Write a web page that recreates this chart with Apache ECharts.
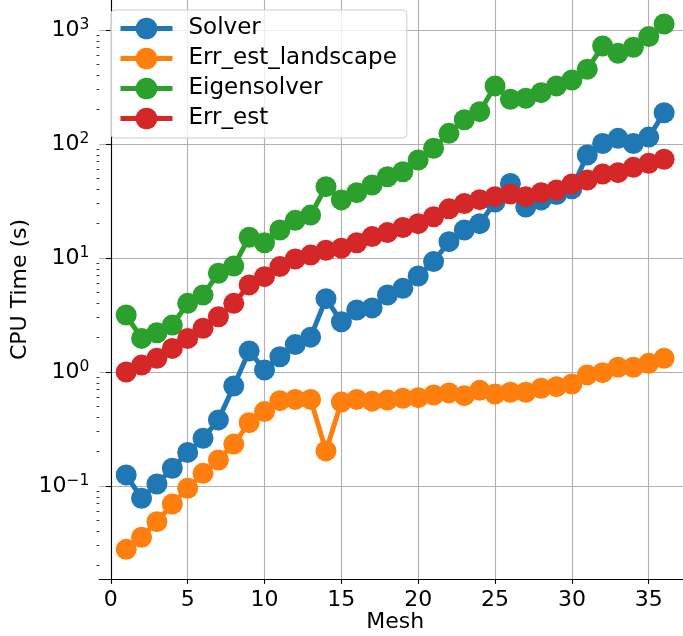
<!DOCTYPE html>
<html>
<head>
<meta charset="utf-8">
<title>CPU Time vs Mesh</title>
<script src="https://cdn.jsdelivr.net/npm/echarts@6/dist/echarts.min.js"></script>
<style>
  html, body { margin: 0; padding: 0; background: #ffffff; }
  #chart { width: 683px; height: 636px; }
</style>
</head>
<body>
<div id="chart"></div>
<script>
// Mesh index on the x axis
const mesh = [1, 2, 3, 4, 5, 6, 7, 8, 9, 10, 11, 12, 13, 14, 15, 16, 17, 18,
              19, 20, 21, 22, 23, 24, 25, 26, 27, 28, 29, 30, 31, 32, 33, 34, 35, 36];

// CPU time in seconds for each stage
const solver = [0.125, 0.078, 0.104, 0.143, 0.197, 0.262, 0.38, 0.753, 1.53, 1.04,
                1.36, 1.74, 2.02, 4.4, 2.76, 3.5, 3.65, 4.73, 5.42, 6.95,
                9.3, 13.9, 17.6, 20.0, 31, 45, 28, 32.3, 36, 40.5,
                80, 101, 112, 101, 115, 188];
const errEstLandscape = [0.0278, 0.0355, 0.0486, 0.0695, 0.0955, 0.129, 0.169, 0.233, 0.359, 0.449,
                         0.56, 0.575, 0.575, 0.203, 0.545, 0.575, 0.555, 0.567, 0.587, 0.595,
                         0.628, 0.655, 0.62, 0.69, 0.64, 0.664, 0.664, 0.72, 0.743, 0.785,
                         0.942, 0.987, 1.1, 1.1, 1.19, 1.32];
const eigensolver = [3.16, 1.97, 2.21, 2.58, 4.0, 4.73, 7.34, 8.51, 15.2, 13.6,
                     17.6, 21.4, 23.8, 42.2, 32.3, 37.4, 43.7, 51.6, 57.1, 72.4,
                     91.7, 124, 163, 192, 323, 247, 252, 282, 323, 364,
                     452, 724, 624, 705, 875, 1129];
const errEst = [1.0, 1.15, 1.32, 1.61, 1.97, 2.42, 3.05, 4.0, 5.8, 6.86,
                8.4, 9.8, 10.6, 11.7, 12.2, 13.6, 15.4, 16.7, 18.5, 20.0,
                23.0, 27.0, 30.0, 32.5, 34.5, 36.4, 34.5, 37.4, 39.5, 44.6,
                48.3, 54.5, 56, 62.4, 67.6, 73.4];

// Tick positions
const xTicks = [0, 5, 10, 15, 20, 25, 30, 35];
const yMajorTicks = [0.1, 1, 10, 100, 1000];
const yMinorTicks = [0.02, 0.03, 0.04, 0.05, 0.06, 0.07, 0.08, 0.09,
                     0.2, 0.3, 0.4, 0.5, 0.6, 0.7, 0.8, 0.9,
                     2, 3, 4, 5, 6, 7, 8, 9,
                     20, 30, 40, 50, 60, 70, 80, 90,
                     200, 300, 400, 500, 600, 700, 800, 900];

const FONT = 'DejaVu Sans';
const X_MIN = -0.75, X_MAX = 37.75;
const Y_MIN = Math.pow(10, -1.816), Y_MAX = Math.pow(10, 3.263);

const seriesDefs = [
  { name: 'Solver', values: solver, color: '#1f77b4' },
  { name: 'Err_est_landscape', values: errEstLandscape, color: '#ff7f0e' },
  { name: 'Eigensolver', values: eigensolver, color: '#2ca02c' },
  { name: 'Err_est', values: errEst, color: '#d62728' }
];

function powerLabel(v) {
  const e = Math.round(Math.log10(v));
  const s = e < 0 ? '\u2212' + Math.abs(e) : String(e);
  return '{b|10}{s|' + s + '}';
}

const chart = echarts.init(document.getElementById('chart'), null, { renderer: 'canvas' });

chart.setOption({
  animation: false,
  backgroundColor: '#ffffff',
  textStyle: { fontFamily: FONT },
  grid: { left: 99.3, right: -8, top: 0, bottom: 57, containLabel: false, outerBoundsMode: 'none' },
  legend: {
    left: 111, top: 10,
    orient: 'vertical',
    padding: [7, 10, 8, 7],
    itemWidth: 52, itemHeight: 27, itemGap: 7,
    backgroundColor: 'rgba(255,255,255,0.8)',
    borderColor: '#cccccc', borderWidth: 1, borderRadius: 4,
    lineStyle: { width: 5 },
    textStyle: { fontFamily: FONT, fontSize: 23, color: '#000000', padding: [0, 0, 0, 11] },
    data: seriesDefs.map(d => d.name)
  },
  xAxis: {
    type: 'value',
    min: X_MIN, max: X_MAX,
    name: 'Mesh', nameLocation: 'middle', nameGap: 32, nameMoveOverlap: false,
    nameTextStyle: { fontFamily: FONT, fontSize: 22, color: '#000000', verticalAlign: 'top' },
    axisLine: { show: true, onZero: false, lineStyle: { color: '#000000', width: 1.1 } },
    axisTick: { show: true, length: 4.9, customValues: xTicks, lineStyle: { color: '#000000', width: 1.1 } },
    axisLabel: { customValues: xTicks, margin: 10, fontFamily: FONT, fontSize: 22, color: '#000000' },
    splitLine: { show: true, lineStyle: { color: '#b0b0b0', width: 1.1 } }
  },
  yAxis: [
    {
      type: 'log', logBase: 10,
      min: Y_MIN, max: Y_MAX,
      name: 'CPU Time (s)', nameLocation: 'middle', nameGap: 68, nameMoveOverlap: false,
      nameTextStyle: { fontFamily: FONT, fontSize: 22, color: '#000000' },
      axisLine: { show: true, lineStyle: { color: '#000000', width: 1.1 } },
      axisTick: { show: true, length: 4.9, customValues: yMajorTicks, lineStyle: { color: '#000000', width: 1.1 } },
      axisLabel: {
        customValues: yMajorTicks, margin: 10,
        formatter: powerLabel,
        rich: {
          b: { fontFamily: FONT, fontSize: 22, color: '#000000' },
          s: { fontFamily: FONT, fontSize: 15.5, color: '#000000', padding: [0, 0, 11, 0] }
        }
      },
      splitLine: { show: true, lineStyle: { color: '#b0b0b0', width: 1.1 } }
    },
    {
      // minor ticks of the log axis
      type: 'log', logBase: 10,
      min: Y_MIN, max: Y_MAX,
      position: 'left',
      axisLine: { show: false },
      axisTick: { show: true, length: 2.8, customValues: yMinorTicks, lineStyle: { color: '#000000', width: 0.8 } },
      axisLabel: { show: false },
      splitLine: { show: false }
    }
  ],
  series: seriesDefs.map(d => ({
    name: d.name,
    type: 'line',
    yAxisIndex: 0,
    data: mesh.map((m, i) => [m, d.values[i]]),
    symbol: 'circle',
    symbolSize: 21,
    showSymbol: true,
    color: d.color,
    itemStyle: { color: d.color },
    lineStyle: { color: d.color, width: 5 },
    emphasis: { disabled: true },
    clip: false
  }))
});
</script>
</body>
</html>
